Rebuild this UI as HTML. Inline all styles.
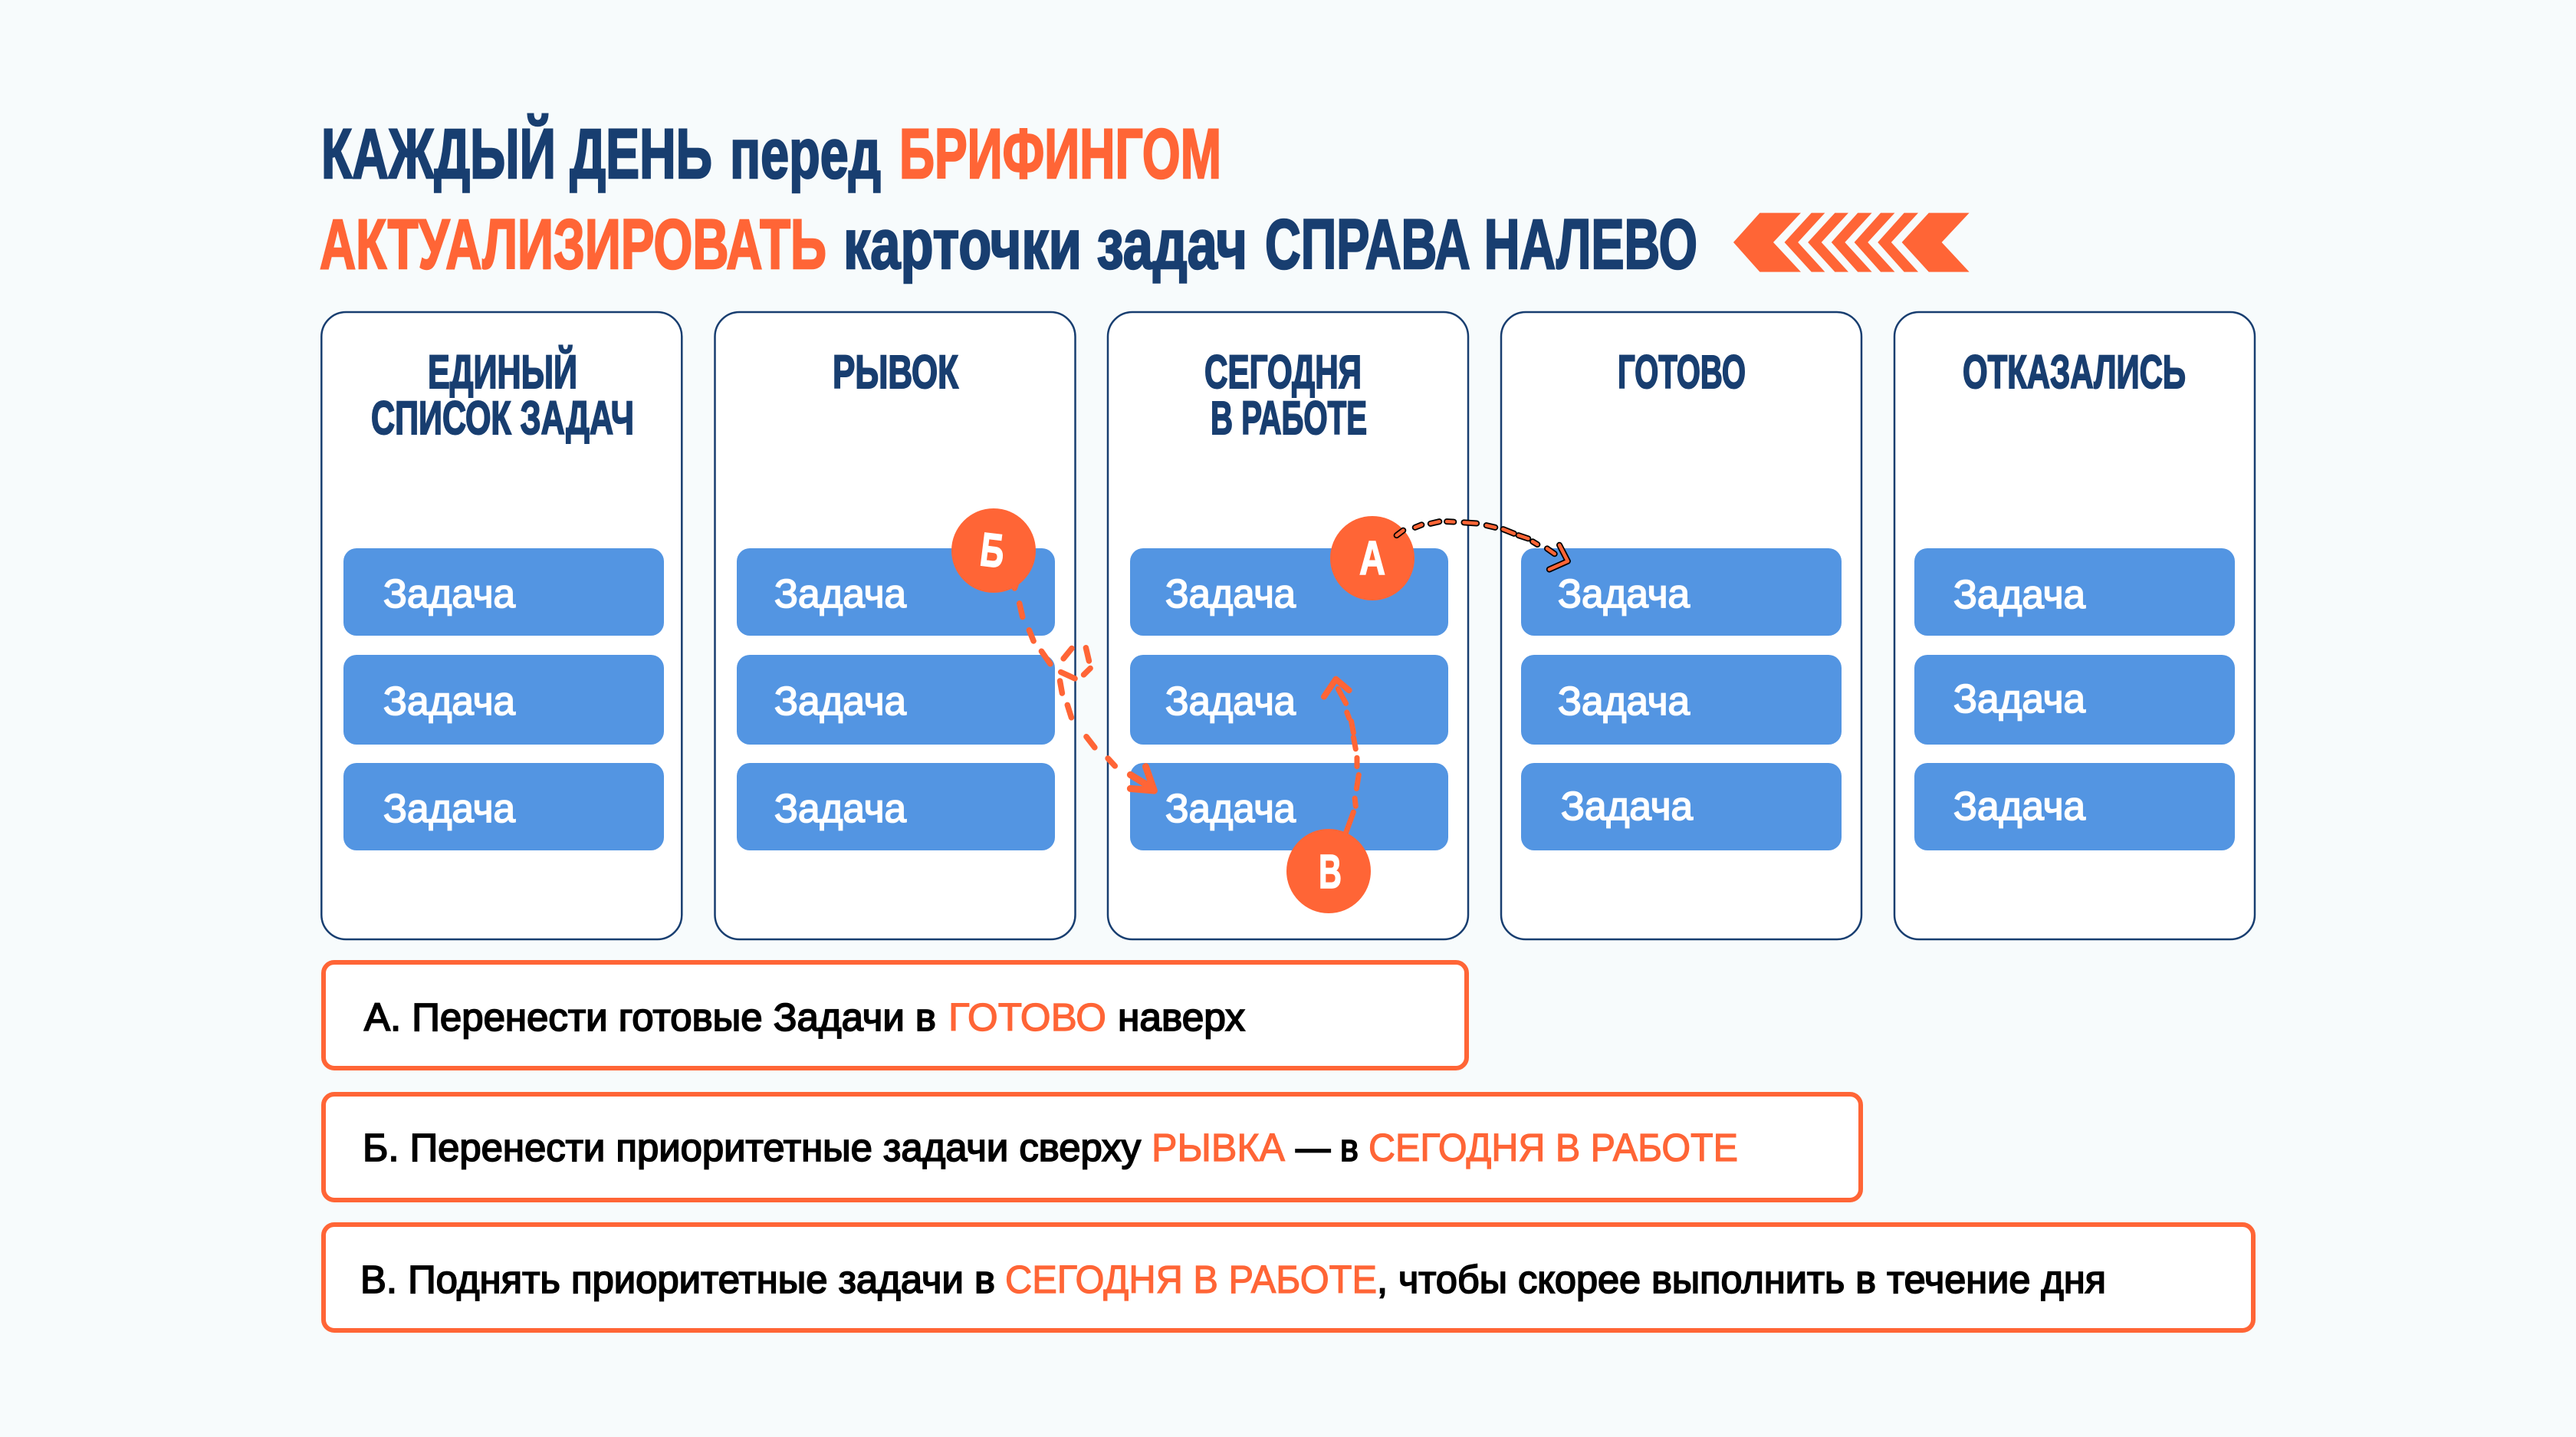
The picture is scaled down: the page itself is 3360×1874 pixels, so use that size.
<!DOCTYPE html>
<html lang="ru"><head><meta charset="utf-8"><title>Каждый день перед брифингом</title>
<style>
html,body{margin:0;padding:0;width:3360px;height:1874px;background:#F7FBFC;overflow:hidden}
svg{display:block}
text{font-family:"Liberation Sans",sans-serif}
.h{font-size:92px;font-weight:700;fill:#183E70;stroke:#183E70;stroke-width:2.5}
.o{fill:#FF6536;stroke:#FF6536}
.c{font-size:61px;font-weight:700;fill:#183E70;stroke:#183E70;stroke-width:2}
.t{font-size:52px;fill:#fff;stroke:#fff;stroke-width:1.8}
.b{font-size:51px;fill:#000;stroke:#000;stroke-width:1.8}
.bo{font-size:51px;fill:#FF6536;stroke:#FF6536;stroke-width:1.2}
.l{font-size:62px;font-weight:700;fill:#fff;stroke:#fff;stroke-width:1.5}
.col{fill:#fff;stroke:#183E70;stroke-width:2.5}
.task{fill:#5395E2}
.box{fill:#fff;stroke:#FF6536;stroke-width:6}
.dash path{fill:none;vector-effect:non-scaling-stroke;stroke-linecap:round;stroke-linejoin:round}
</style></head><body>
<svg xmlns="http://www.w3.org/2000/svg" width="3360" height="1874" viewBox="0 0 3360 1874">
<rect width="3360" height="1874" fill="#F7FBFC"/>

<!-- heading -->
<text class="h" x="419" y="232" textLength="510" lengthAdjust="spacingAndGlyphs">КАЖДЫЙ ДЕНЬ</text>
<text class="h" x="952" y="232" textLength="197" lengthAdjust="spacingAndGlyphs">перед</text>
<text class="h o" x="1173" y="232" textLength="420" lengthAdjust="spacingAndGlyphs">БРИФИНГОМ</text>
<text class="h o" x="417" y="350" textLength="661" lengthAdjust="spacingAndGlyphs">АКТУАЛИЗИРОВАТЬ</text>
<text class="h" x="1100" y="350" textLength="527" lengthAdjust="spacingAndGlyphs">карточки задач</text>
<text class="h" x="1650" y="350" textLength="564" lengthAdjust="spacingAndGlyphs">СПРАВА НАЛЕВО</text>

<!-- chevrons -->
<g fill="#FF6536" transform="translate(1400,130) scale(.7653,.33333)">
<polygon points="1170,443 1240,443 1193,558 1240,674 1170,674 1125,558"/>
<polygon points="1258,443 1281,443 1235,558 1281,674 1258,674 1212,558"/>
<polygon points="1298,443 1321,443 1275,558 1321,674 1298,674 1252,558"/>
<polygon points="1337,443 1361,443 1315,558 1361,674 1337,674 1292,558"/>
<polygon points="1376,443 1400,443 1354,558 1400,674 1376,674 1331,558"/>
<polygon points="1416,443 1440,443 1394,558 1440,674 1416,674 1371,558"/>
<polygon points="1458,443 1527,443 1480,558 1527,674 1458,674 1412,558"/>
</g>

<!-- columns -->
<rect class="col" x="419.300" y="407" width="470" height="818" rx="32"/>
<rect class="col" x="932.500" y="407" width="470" height="818" rx="32"/>
<rect class="col" x="1445" y="407" width="470" height="818" rx="32"/>
<rect class="col" x="1958" y="407" width="470" height="818" rx="32"/>
<rect class="col" x="2471" y="407" width="470" height="818" rx="32"/>

<text class="c" x="558" y="506" textLength="195" lengthAdjust="spacingAndGlyphs">ЕДИНЫЙ</text>
<text class="c" x="484" y="566" textLength="343" lengthAdjust="spacingAndGlyphs">СПИСОК ЗАДАЧ</text>
<text class="c" x="1086" y="506" textLength="164" lengthAdjust="spacingAndGlyphs">РЫВОК</text>
<text class="c" x="1571" y="506" textLength="205" lengthAdjust="spacingAndGlyphs">СЕГОДНЯ</text>
<text class="c" x="1579" y="566" textLength="204" lengthAdjust="spacingAndGlyphs">В РАБОТЕ</text>
<text class="c" x="2110" y="506" textLength="167" lengthAdjust="spacingAndGlyphs">ГОТОВО</text>
<text class="c" x="2560" y="506" textLength="291" lengthAdjust="spacingAndGlyphs">ОТКАЗАЛИСЬ</text>

<!-- tasks -->
<g>
<rect class="task" x="448" y="715" width="418" height="114" rx="17"/><rect class="task" x="448" y="854" width="418" height="117" rx="17"/><rect class="task" x="448" y="995" width="418" height="114" rx="17"/>
<rect class="task" x="961" y="715" width="415" height="114" rx="17"/><rect class="task" x="961" y="854" width="415" height="117" rx="17"/><rect class="task" x="961" y="995" width="415" height="114" rx="17"/>
<rect class="task" x="1474" y="715" width="415" height="114" rx="17"/><rect class="task" x="1474" y="854" width="415" height="117" rx="17"/><rect class="task" x="1474" y="995" width="415" height="114" rx="17"/>
<rect class="task" x="1984" y="715" width="418" height="114" rx="17"/><rect class="task" x="1984" y="854" width="418" height="117" rx="17"/><rect class="task" x="1984" y="995" width="418" height="114" rx="17"/>
<rect class="task" x="2497" y="715" width="418" height="114" rx="17"/><rect class="task" x="2497" y="854" width="418" height="117" rx="17"/><rect class="task" x="2497" y="995" width="418" height="114" rx="17"/>
</g>
<g>
<text class="t" x="500" y="792" textLength="172" lengthAdjust="spacingAndGlyphs">Задача</text>
<text class="t" x="500" y="932" textLength="172" lengthAdjust="spacingAndGlyphs">Задача</text>
<text class="t" x="500" y="1072" textLength="172" lengthAdjust="spacingAndGlyphs">Задача</text>
<text class="t" x="1010" y="792" textLength="172" lengthAdjust="spacingAndGlyphs">Задача</text>
<text class="t" x="1010" y="932" textLength="172" lengthAdjust="spacingAndGlyphs">Задача</text>
<text class="t" x="1010" y="1072" textLength="172" lengthAdjust="spacingAndGlyphs">Задача</text>
<text class="t" x="1520" y="792" textLength="170" lengthAdjust="spacingAndGlyphs">Задача</text>
<text class="t" x="1520" y="932" textLength="170" lengthAdjust="spacingAndGlyphs">Задача</text>
<text class="t" x="1520" y="1072" textLength="170" lengthAdjust="spacingAndGlyphs">Задача</text>
<text class="t" x="2032" y="792" textLength="172" lengthAdjust="spacingAndGlyphs">Задача</text>
<text class="t" x="2032" y="932" textLength="172" lengthAdjust="spacingAndGlyphs">Задача</text>
<text class="t" x="2036" y="1069" textLength="172" lengthAdjust="spacingAndGlyphs">Задача</text>
<text class="t" x="2548" y="793" textLength="172" lengthAdjust="spacingAndGlyphs">Задача</text>
<text class="t" x="2548" y="929" textLength="172" lengthAdjust="spacingAndGlyphs">Задача</text>
<text class="t" x="2548" y="1069" textLength="172" lengthAdjust="spacingAndGlyphs">Задача</text>
</g>

<!-- circles -->
<circle cx="1296" cy="718" r="55" fill="#FF6536"/>
<circle cx="1790" cy="728" r="55" fill="#FF6536"/>
<circle cx="1733" cy="1136" r="55" fill="#FF6536"/>
<text class="l" x="1279" y="739" textLength="31" lengthAdjust="spacingAndGlyphs" transform="rotate(7 1295 718)">Б</text>
<text class="l" x="1773" y="749" textLength="34" lengthAdjust="spacingAndGlyphs">А</text>
<text class="l" x="1720" y="1158" textLength="30" lengthAdjust="spacingAndGlyphs">В</text>

<!-- arrows -->
<g class="dash" transform="translate(1200,640) scale(.5740,.38265)">
<g>
<path stroke="#FF6536" stroke-width="7.500" d="M218 318L215 332M226 384L233 430M248 475L258 512M276 547L296 590M345 537L326 572M377 535L384 580M387 605L372 627M352 640L320 618M318 648L323 690M335 730L344 773M378 838L397 875M427 912L443 938"/>
<path stroke="#FF6536" stroke-width="9" d="M513 940L532 1022L478 1015M478 968L530 1015"/>
<path stroke="#FF6536" stroke-width="7" d="M968 1165L985 1095M988 1048L990 1075M992 1015L997 968M993 910L993 940M985 840L990 880M980 785L985 825M970 755L975 775M950 675L968 725"/>
<path stroke="#FF6536" stroke-width="8" d="M918 702L945 642L975 680"/>
</g>
<path stroke="#000" stroke-width="8" d="M1083 152L1098 135M1125 125L1140 116M1160 112L1180 105M1197 105L1213 106M1236 108L1265 111M1287 118L1307 125M1325 131L1350 146M1360 152L1382 163M1392 173L1403 183M1425 197L1442 215M1453 185L1472 240L1430 268"/>
<path stroke="#FF6536" stroke-width="4.500" d="M1083 152L1098 135M1125 125L1140 116M1160 112L1180 105M1197 105L1213 106M1236 108L1265 111M1287 118L1307 125M1325 131L1350 146M1360 152L1382 163M1392 173L1403 183M1425 197L1442 215M1453 185L1472 240L1430 268"/>
</g>

<!-- bottom boxes -->
<rect class="box" x="422" y="1255" width="1491" height="138" rx="14"/>
<rect class="box" x="422" y="1427" width="2005" height="138" rx="14"/>
<rect class="box" x="422" y="1597" width="2517" height="138" rx="14"/>

<text class="b" x="475" y="1344" textLength="746" lengthAdjust="spacingAndGlyphs">А. Перенести готовые Задачи в</text>
<text class="bo" x="1237" y="1344" textLength="206" lengthAdjust="spacingAndGlyphs">ГОТОВО</text>
<text class="b" x="1458" y="1344" textLength="166" lengthAdjust="spacingAndGlyphs">наверх</text>

<text class="b" x="473" y="1514" textLength="1015" lengthAdjust="spacingAndGlyphs">Б. Перенести приоритетные задачи сверху</text>
<text class="bo" x="1502" y="1514" textLength="174" lengthAdjust="spacingAndGlyphs">РЫВКА</text>
<text class="b" x="1690" y="1514" textLength="82" lengthAdjust="spacingAndGlyphs">— в</text>
<text class="bo" x="1785" y="1514" textLength="482" lengthAdjust="spacingAndGlyphs">СЕГОДНЯ В РАБОТЕ</text>

<text class="b" x="470" y="1686" textLength="828" lengthAdjust="spacingAndGlyphs">В. Поднять приоритетные задачи в</text>
<text class="bo" x="1311" y="1686" textLength="485" lengthAdjust="spacingAndGlyphs">СЕГОДНЯ В РАБОТЕ</text>
<text class="b" x="1796" y="1686" textLength="951" lengthAdjust="spacingAndGlyphs">, чтобы скорее выполнить в течение дня</text>
</svg>
</body></html>
